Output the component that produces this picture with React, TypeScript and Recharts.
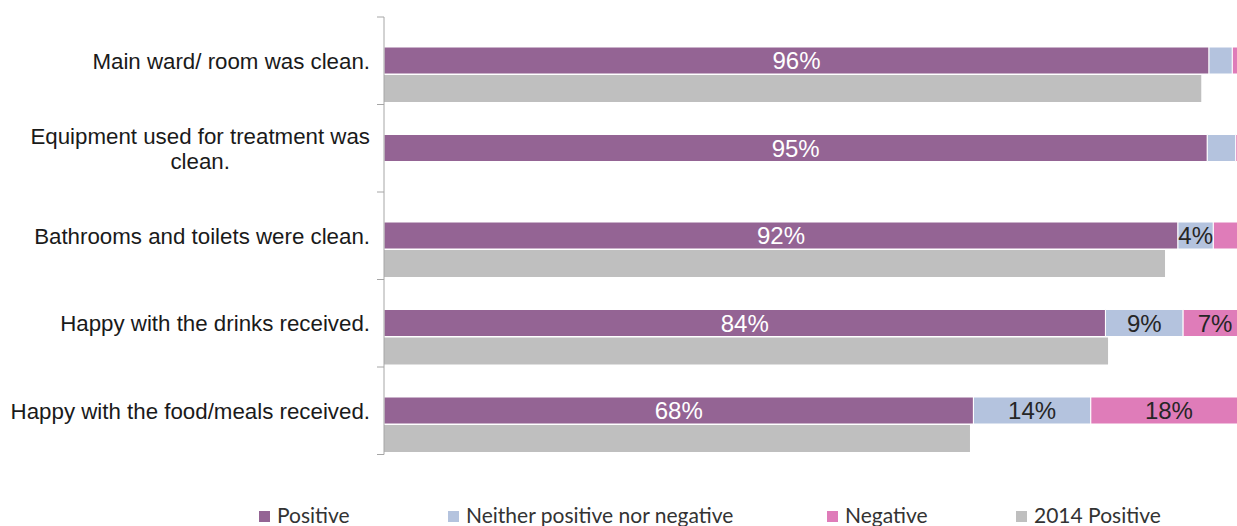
import React from 'react';
import { BarChart, Bar, XAxis, YAxis, Legend, LabelList } from 'recharts';

// ---------- data ----------
const categories = [
  'Main ward/ room was clean.',
  'Equipment used for treatment was clean.',
  'Bathrooms and toilets were clean.',
  'Happy with the drinks received.',
  'Happy with the food/meals received.',
];
const positive = [95.6, 95.4, 92.0, 83.6, 68.3];
const neither = [2.7, 3.3, 4.1, 9.0, 13.6];
const negative = [1.7, 1.3, 3.9, 7.4, 18.1];
const positive2014: (number | null)[] = [94.7, null, 90.5, 83.9, 67.9];
const seriesNames = ['Positive', 'Neither positive nor negative', 'Negative', '2014 Positive'];
const xDomain: [number, number] = [0, 100];

// ---------- styles ----------
const COLORS = ['#946494', '#B4C3DE', '#DF7CB9', '#BFBFBF'];
const AXIS_FONT = '"Liberation Sans", Arial, Helvetica, sans-serif';
const LEGEND_FONT = 'Lato, "Open Sans", sans-serif';

const data = categories.map((c, i) => ({
  category: c,
  positive: positive[i],
  neither: neither[i],
  negative: negative[i],
  p2014: positive2014[i],
}));

let ctx: CanvasRenderingContext2D | null = null;
function measure(text: string, size: number): number {
  if (!ctx) ctx = document.createElement('canvas').getContext('2d');
  if (!ctx) return text.length * size * 0.5;
  ctx.font = `${size}px ${AXIS_FONT}`;
  return ctx.measureText(text).width;
}

function CategoryTick(props: any) {
  const { x, y, payload, index, visibleTicksCount } = props;
  const half = payload && payload.offset ? payload.offset : 43.75;
  const size = 22.3;
  const words = String(payload.value).split(' ');
  const lines: string[] = [];
  let cur = '';
  for (const w of words) {
    const t = cur ? cur + ' ' + w : w;
    if (cur && measure(t, size) > 370) {
      lines.push(cur);
      cur = w;
    } else cur = t;
  }
  lines.push(cur);
  const maxW = Math.max(...lines.map((l) => measure(l, size)));
  const right = x - 14;
  const lh = 25;
  const y0 = y - ((lines.length - 1) * lh) / 2;
  const count = visibleTicksCount ?? categories.length;
  return (
    <g>
      <line x1={x - 7} x2={x} y1={y - half} y2={y - half} stroke="#A6A6A6" strokeWidth={1} />
      {index === count - 1 && (
        <line x1={x - 7} x2={x} y1={y + half} y2={y + half} stroke="#A6A6A6" strokeWidth={1} />
      )}
      <text
        fontFamily={AXIS_FONT}
        fontSize={size}
        fill="#1A1A1A"
        textAnchor={lines.length > 1 ? 'middle' : 'end'}
      >
        {lines.map((l, i) => (
          <tspan key={i} x={lines.length > 1 ? right - maxW / 2 : right} y={y0 + i * lh} dy="0.35em">
            {l}
          </tspan>
        ))}
      </text>
    </g>
  );
}

const legendX = [259, 448, 827, 1016];

function LegendContent() {
  return (
    <div style={{ position: 'relative', width: 1237, height: 34 }}>
      {seriesNames.map((name, i) => (
        <div
          key={name}
          style={{
            position: 'absolute',
            left: legendX[i],
            top: 11,
            height: 24,
            display: 'flex',
            alignItems: 'center',
            whiteSpace: 'nowrap',
          }}
        >
          <span style={{ display: 'inline-block', width: 11, height: 11, background: COLORS[i], marginRight: 7, marginTop: 2 }} />
          <span style={{ fontFamily: LEGEND_FONT, fontSize: 21, color: '#333', lineHeight: '24px' }}>{name}</span>
        </div>
      ))}
    </div>
  );
}

const pct = (v: any) => (v == null ? '' : `${Math.round(Number(v))}%`);
const pctIfWide = (v: any) => (v == null || Number(v) < 4 ? '' : `${Math.round(Number(v))}%`);

export default function App() {
  return (
    <div style={{ position: 'absolute', left: 0, top: 0, width: 1237, height: 526, overflow: 'hidden', background: '#fff' }}>
      <BarChart
        layout="vertical"
        width={1247}
        height={526}
        data={data}
        margin={{ top: 17, right: 0, bottom: 37.5, left: 0 }}
        barCategoryGap={2}
        barGap={1}
      >
        <XAxis type="number" domain={xDomain} hide />
        <YAxis
          type="category"
          dataKey="category"
          width={384}
          interval={0}
          tick={<CategoryTick />}
          tickLine={false}
          tickSize={0}
          tickMargin={0}
          axisLine={{ stroke: '#A6A6A6' }}
        />
        <Legend
          verticalAlign="bottom"
          content={<LegendContent />}
          wrapperStyle={{ left: 0, top: 492, bottom: 'auto', width: 1237, height: 34 }}
        />
        {/* empty upper slot of each category, as in the original layout */}
        <Bar dataKey="slot" stackId="a" legendType="none" fill="none" isAnimationActive={false} />
        <Bar dataKey="positive" name={seriesNames[0]} stackId="s" fill={COLORS[0]} stroke="#fff" strokeWidth={1} isAnimationActive={false}>
          <LabelList dataKey="positive" position="center" fill="#fff" fontSize={24} fontFamily={AXIS_FONT} formatter={pct} />
        </Bar>
        <Bar dataKey="neither" name={seriesNames[1]} stackId="s" fill={COLORS[1]} stroke="#fff" strokeWidth={1} isAnimationActive={false}>
          <LabelList dataKey="neither" position="center" fill="#262626" fontSize={24} fontFamily={AXIS_FONT} formatter={pctIfWide} />
        </Bar>
        <Bar dataKey="negative" name={seriesNames[2]} stackId="s" fill={COLORS[2]} stroke="#fff" strokeWidth={1} isAnimationActive={false}>
          <LabelList dataKey="negative" position="center" fill="#262626" fontSize={24} fontFamily={AXIS_FONT} formatter={pctIfWide} />
        </Bar>
        <Bar dataKey="p2014" name={seriesNames[3]} stackId="z" fill={COLORS[3]} isAnimationActive={false} />
      </BarChart>
    </div>
  );
}
